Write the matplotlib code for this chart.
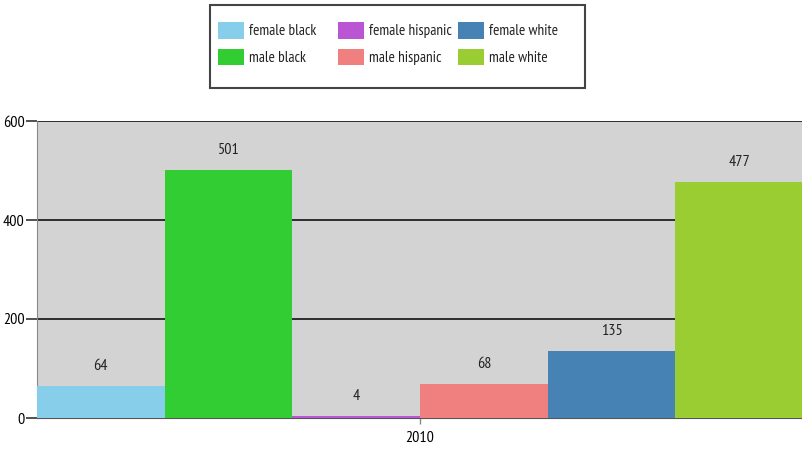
import matplotlib
matplotlib.use("Agg")
import matplotlib.pyplot as plt
from matplotlib.patches import Patch, Rectangle

plt.rcParams['font.family'] = ['PT Sans Narrow', 'DejaVu Sans']

year = "2010"
series = ["female black", "male black", "female hispanic",
          "male hispanic", "female white", "male white"]
values = [64, 501, 4, 68, 135, 477]
colors = ["#87CEEB", "#32CD32", "#BA55D3", "#F08080", "#4682B4", "#9ACD32"]
yticks = [0, 200, 400, 600]

W, H = 803, 454
fig = plt.figure(figsize=(W / 100, H / 100), dpi=100)
ax = fig.add_axes([37 / W, 1 - 418 / H, 766 / W, 297 / H])
ax.set_facecolor("#D3D3D3")

n = len(values)
for i, (v, c) in enumerate(zip(values, colors)):
    ax.bar(i, v, width=1.0, color=c, align='edge', zorder=3)
    ax.annotate(str(v), (i + 0.5, v), xytext=(0, 20), textcoords='offset pixels',
                ha='center', va='center', fontsize=11.5, color="#222222")

ax.set_xlim(0, n)
ax.set_ylim(0, 600)
ax.set_yticks(yticks)
ax.set_yticklabels([str(t) for t in yticks], fontsize=11.5)
ax.yaxis.grid(True, color="#111111", linewidth=1.2, zorder=1)
ax.set_xticks([n / 2])
ax.set_xticklabels([year], fontsize=11.5)
ax.tick_params(axis='y', length=8, width=1.2, color="#333333", pad=1)
ax.tick_params(axis='x', length=4, width=1, color="#888888", pad=5)

for side in ['top', 'right']:
    ax.spines[side].set_visible(False)
ax.spines['left'].set_color("#888888")
ax.spines['bottom'].set_color("#555555")

# legend: three fixed-width columns of two entries each, inside one frame
handles = [Patch(facecolor=c, edgecolor='none') for c in colors]
for col in range(3):
    leg = fig.legend(handles[2 * col:2 * col + 2], series[2 * col:2 * col + 2],
                     loc='upper left', bbox_to_anchor=((218 + 120 * col) / W, 1 - 22 / H),
                     frameon=False, fontsize=11, handlelength=1.7,
                     handleheight=1.3, handletextpad=0.3, labelspacing=0.65,
                     borderpad=0, borderaxespad=0)
    for t in leg.get_texts():
        t.set_color("#222222")
fig.patches.append(Rectangle((210 / W, 1 - 88 / H), 375 / W, 83 / H,
                             transform=fig.transFigure, fill=False,
                             edgecolor="#444444", linewidth=1.5))

fig.savefig("out.png", dpi=100)
